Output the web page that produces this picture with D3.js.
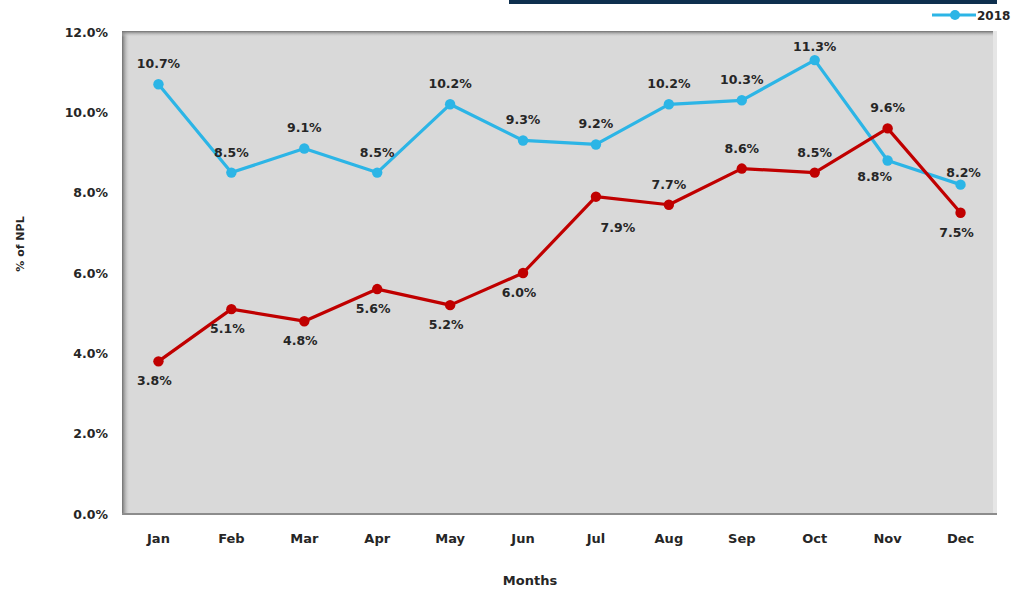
<!DOCTYPE html>
<html>
<head>
<meta charset="utf-8">
<script src="https://cdn.jsdelivr.net/npm/d3@7/dist/d3.min.js"></script>
<style>
  body { margin: 0; background: #fff; }
  text { font-family: "DejaVu Sans", sans-serif; font-weight: bold; fill: #262626; }
</style>
</head>
<body>
<svg id="chart" width="1021" height="591"></svg>
<script>
const months = ['Jan', 'Feb', 'Mar', 'Apr', 'May', 'Jun', 'Jul', 'Aug', 'Sep', 'Oct', 'Nov', 'Dec'];
const values2018 = [10.7, 8.5, 9.1, 8.5, 10.2, 9.3, 9.2, 10.2, 10.3, 11.3, 8.8, 8.2];
const valuesOther = [3.8, 5.1, 4.8, 5.6, 5.2, 6.0, 7.9, 7.7, 8.6, 8.5, 9.6, 7.5];
const yTicks = [0, 2, 4, 6, 8, 10, 12];

// label placement: a = above, c = close above, b = below, r = below-right, l = below-left, t = just above-right
const place2018 = ['a', 'a', 'a', 'a', 'a', 'a', 'a', 'a', 'a', 'c', 'l', 't'];
const placeOther = ['b', 'b', 'b', 'b', 'b', 'b', 'r', 'a', 'a', 'a', 'a', 'b'];

const BLUE = '#2cb5e6';
const RED = '#c00000';
const plot = { left: 122, right: 997, top: 31, bottom: 515 };

const svg = d3.select('#chart');

const x = d3.scaleBand().domain(months).range([plot.left, plot.right]);
const y = d3.scaleLinear().domain([0, 12]).range([514, 32]);

// top navy bar
svg.append('rect').attr('x', 509).attr('y', 0).attr('width', 488).attr('height', 4).attr('fill', '#0e2f4e');

// plot area with inset shadow
const defs = svg.append('defs');
const gl = defs.append('linearGradient').attr('id', 'shL').attr('x1', 0).attr('x2', 1).attr('y1', 0).attr('y2', 0);
gl.append('stop').attr('offset', 0).attr('stop-color', '#6e6e6e');
gl.append('stop').attr('offset', 1).attr('stop-color', '#d9d9d9').attr('stop-opacity', 0);
const gt = defs.append('linearGradient').attr('id', 'shT').attr('x1', 0).attr('x2', 0).attr('y1', 0).attr('y2', 1);
gt.append('stop').attr('offset', 0).attr('stop-color', '#6e6e6e');
gt.append('stop').attr('offset', 1).attr('stop-color', '#d9d9d9').attr('stop-opacity', 0);

svg.append('rect')
  .attr('x', plot.left).attr('y', plot.top)
  .attr('width', plot.right - plot.left).attr('height', plot.bottom - plot.top)
  .attr('fill', '#d9d9d9');
svg.append('rect').attr('x', plot.left).attr('y', plot.top)
  .attr('width', 8).attr('height', plot.bottom - plot.top).attr('fill', 'url(#shL)');
svg.append('rect').attr('x', plot.left).attr('y', plot.top)
  .attr('width', plot.right - plot.left - 4).attr('height', 6).attr('fill', 'url(#shT)');
svg.append('line')
  .attr('x1', plot.left).attr('x2', plot.right)
  .attr('y1', plot.bottom - 1).attr('y2', plot.bottom - 1)
  .attr('stroke', '#8c8c8c').attr('stroke-width', 2);
svg.append('rect').attr('x', plot.right - 4).attr('y', plot.top)
  .attr('width', 4).attr('height', plot.bottom - plot.top - 2).attr('fill', '#e6e6e6');

// y axis
const yAxis = svg.append('g')
  .attr('transform', `translate(${plot.left},0)`)
  .call(d3.axisLeft(y).tickValues(yTicks).tickSize(0).tickPadding(14).tickFormat(d => d.toFixed(1) + '%'));
yAxis.select('.domain').remove();
yAxis.selectAll('text').style('font-size', '12.5px').style('font-family', '"DejaVu Sans", sans-serif').attr('fill', '#262626');

// x axis
const xAxis = svg.append('g')
  .attr('transform', `translate(0,${plot.bottom})`)
  .call(d3.axisBottom(x).tickSize(0).tickPadding(19));
xAxis.select('.domain').remove();
xAxis.selectAll('text').style('font-size', '13px').style('font-family', '"DejaVu Sans", sans-serif').attr('fill', '#262626');

// axis titles
svg.append('text').attr('x', 530).attr('y', 585).attr('text-anchor', 'middle')
  .style('font-size', '13px').text('Months');
svg.append('text').attr('transform', 'translate(24,244)rotate(-90)').attr('text-anchor', 'middle')
  .style('font-size', '11px').text('% of NPL');

const line = d3.line().x((d, i) => x(months[i]) + x.bandwidth() / 2).y(d => y(d));

function offset(p) {
  if (p === 'a') return [0, -16];
  if (p === 'c') return [0, -9];
  if (p === 'b') return [-4, 24];
  if (p === 'r') return [22, 35];
  if (p === 'l') return [-13, 20];
  if (p === 't') return [3, -8];
  return [0, 0];
}

function drawSeries(vals, color, placement) {
  const g = svg.append('g');
  g.append('path').datum(vals).attr('d', line)
    .attr('fill', 'none').attr('stroke', color).attr('stroke-width', 3.2).attr('stroke-linejoin', 'round');
  g.selectAll('circle').data(vals).enter().append('circle')
    .attr('cx', (d, i) => x(months[i]) + x.bandwidth() / 2)
    .attr('cy', d => y(d))
    .attr('r', 5.2)
    .attr('fill', color);
  g.selectAll('text').data(vals).enter().append('text')
    .attr('x', (d, i) => x(months[i]) + x.bandwidth() / 2 + offset(placement[i])[0])
    .attr('y', (d, i) => y(d) + offset(placement[i])[1])
    .attr('text-anchor', 'middle')
    .style('font-size', '12.5px')
    .text(d => d.toFixed(1) + '%');
}

drawSeries(values2018, BLUE, place2018);
drawSeries(valuesOther, RED, placeOther);

// legend
const lg = svg.append('g').attr('transform', 'translate(932,15)');
lg.append('line').attr('x1', 0).attr('x2', 44).attr('y1', 0).attr('y2', 0)
  .attr('stroke', BLUE).attr('stroke-width', 3.2);
lg.append('circle').attr('cx', 23).attr('cy', 0).attr('r', 5).attr('fill', BLUE);
lg.append('text').attr('x', 45).attr('y', 4.5).style('font-size', '12px').text('2018');
</script>
</body>
</html>
